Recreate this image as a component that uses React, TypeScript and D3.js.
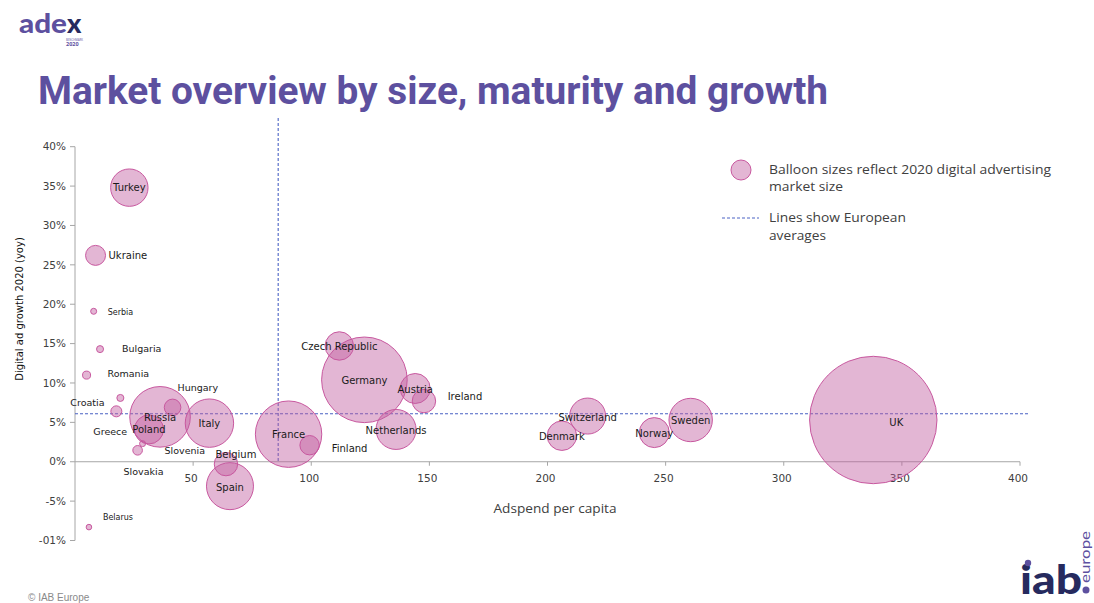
import React from "react";
import * as d3 from "d3";

// ---- Data ----
const countries = [
  "Turkey", "Ukraine", "Serbia", "Bulgaria", "Romania", "Croatia", "Greece",
  "Russia", "Hungary", "Poland", "Slovenia", "Slovakia", "Italy", "Belgium",
  "Spain", "Belarus", "France", "Finland", "Czech Republic", "Germany",
  "Austria", "Ireland", "Netherlands", "Denmark", "Switzerland", "Norway",
  "Sweden", "UK",
];
// Adspend per capita (€)
const adspendPerCapita = [
  23, 8.7, 7.9, 10.6, 4.9, 19.2, 17.5,
  36, 41.3, 31.3, 28.6, 26.5, 56.9, 63.9,
  65.6, 5.9, 90.4, 99.3, 111.9, 122.5,
  144, 147.7, 135.9, 206.1, 217, 245.2,
  260.6, 337.9,
];
// Digital ad growth 2020 (yoy, %)
const growth = [
  34.8, 26.2, 19.1, 14.3, 11.0, 8.1, 6.4,
  5.7, 6.9, 4.1, 2.3, 1.45, 4.9, -0.3,
  -3.1, -8.3, 3.5, 2.1, 14.7, 10.4,
  9.3, 7.7, 4.1, 3.3, 5.8, 3.7,
  5.3, 5.3,
];
// 2020 digital advertising market size (€m)
const marketSize = [
  2025, 579, 52, 71, 93, 71, 175,
  5318, 399, 1218, 52, 133, 3392, 793,
  3199, 45, 6384, 545, 1168, 10610,
  1303, 793, 2317, 1252, 1877, 1303,
  2727, 23500,
];
const xTicks = [50, 100, 150, 200, 250, 300, 350, 400];
const yTicks = [40, 35, 30, 25, 20, 15, 10, 5, 0, -5, -10];
const yTickLabels = ["40%", "35%", "30%", "25%", "20%", "15%", "10%", "5%", "0%", "-5%", "-01%"];
const avgAdspend = 86;
const avgGrowth = 6.1;

// ---- Label layout (offsets from bubble centre) ----
const labelLayout: Record<string, { dx: number; dy: number; anchor: string; size: number }> = {
  Turkey: { dx: 0, dy: 0, anchor: "middle", size: 10 },
  Ukraine: { dx: 13, dy: 0, anchor: "start", size: 10 },
  Serbia: { dx: 14, dy: 1, anchor: "start", size: 8 },
  Bulgaria: { dx: 22, dy: 0, anchor: "start", size: 9.5 },
  Romania: { dx: 21, dy: -1, anchor: "start", size: 9.5 },
  Croatia: { dx: -50, dy: 5, anchor: "start", size: 9.5 },
  Greece: { dx: -23, dy: 20, anchor: "start", size: 9.5 },
  Russia: { dx: 0, dy: 1, anchor: "middle", size: 10 },
  Hungary: { dx: 5, dy: -20, anchor: "start", size: 9.5 },
  Poland: { dx: 0, dy: 0, anchor: "middle", size: 10 },
  Slovenia: { dx: 22, dy: 7, anchor: "start", size: 9.5 },
  Slovakia: { dx: -14, dy: 21, anchor: "start", size: 9.5 },
  Italy: { dx: 0, dy: 0, anchor: "middle", size: 10 },
  Belgium: { dx: 10, dy: -10, anchor: "middle", size: 10 },
  Spain: { dx: 0, dy: 1, anchor: "middle", size: 10 },
  Belarus: { dx: 14, dy: -10, anchor: "start", size: 8 },
  France: { dx: 0, dy: 0, anchor: "middle", size: 10 },
  Finland: { dx: 40, dy: 3, anchor: "middle", size: 10 },
  "Czech Republic": { dx: 0, dy: 1, anchor: "middle", size: 10 },
  Germany: { dx: 0, dy: 1, anchor: "middle", size: 10 },
  Austria: { dx: 0, dy: 1, anchor: "middle", size: 10 },
  Ireland: { dx: 41, dy: -5, anchor: "middle", size: 10 },
  Netherlands: { dx: 0, dy: 1, anchor: "middle", size: 10 },
  Denmark: { dx: 0, dy: 1, anchor: "middle", size: 10 },
  Switzerland: { dx: 0, dy: 1, anchor: "middle", size: 10 },
  Norway: { dx: 0, dy: 1, anchor: "middle", size: 10 },
  Sweden: { dx: 0, dy: 1, anchor: "middle", size: 10 },
  UK: { dx: 23, dy: 3, anchor: "middle", size: 10 },
};

const W = 1094;
const H = 603;
const PURPLE = "#5d509f";
const FONT = "'Open Sans', 'DejaVu Sans', sans-serif";
const LABEL_FONT = "'DejaVu Sans', 'Noto Sans', sans-serif";

export default function App() {
  const x = d3.scaleLinear().domain([0, 400]).range([75, 1020]);
  const y = d3.scaleLinear().domain([-10, 40]).range([540.5, 146.7]);
  const r = d3.scaleSqrt().domain([0, 23500]).range([0, 63.7]);

  const data = countries.map((c, i) => ({
    name: c,
    x: adspendPerCapita[i],
    y: growth[i],
    s: marketSize[i],
  }));
  const sorted = [...data].sort((a, b) => b.s - a.s);

  return (
    <svg
      width={W}
      height={H}
      viewBox={`0 0 ${W} ${H}`}
      style={{ position: "absolute", left: 0, top: 0, background: "#fff" }}
    >
      {/* adex logo */}
      <g>
        <text x={19} y={33} fontFamily="Lato, 'Open Sans', sans-serif" fontWeight={900} fontSize={27} fill={PURPLE} textLength={48} lengthAdjust="spacingAndGlyphs">ade</text>
        <text x={67} y={33} fontFamily="Lato, 'Open Sans', sans-serif" fontWeight={900} fontSize={27} fill="#262a5e">x</text>
        <text x={66} y={41} fontFamily={FONT} fontSize={3} fill={PURPLE} textLength={17} lengthAdjust="spacingAndGlyphs">BENCHMARK</text>
        <text x={66} y={46} fontFamily={FONT} fontWeight={700} fontSize={5.5} fill={PURPLE}>2020</text>
      </g>

      {/* title */}
      <text
        x={38}
        y={103.5}
        fontFamily="Roboto, 'DejaVu Sans', sans-serif"
        fontWeight={700}
        fontSize={39}
        fill={PURPLE}
        textLength={790}
        lengthAdjust="spacingAndGlyphs"
      >
        Market overview by size, maturity and growth
      </text>

      {/* axes */}
      <g stroke="#a6a6a6" strokeWidth={1} fill="none">
        <line x1={x(0)} x2={x(0)} y1={y(40)} y2={y(-10)} />
        <line x1={x(0)} x2={x(400)} y1={y(0)} y2={y(0)} />
        {yTicks.map((t) => (
          <line key={"yt" + t} x1={x(0) - 5} x2={x(0)} y1={y(t)} y2={y(t)} />
        ))}
        {xTicks.map((t) => (
          <line key={"xt" + t} x1={x(t)} x2={x(t)} y1={y(0)} y2={y(0) + 4} />
        ))}
      </g>
      <g fontFamily={LABEL_FONT} fontSize={10.5} fill="#404040">
        {yTicks.map((t, i) => (
          <text key={"yl" + t} x={x(0) - 9} y={y(t)} dy="0.35em" textAnchor="end">
            {yTickLabels[i]}
          </text>
        ))}
        {xTicks.map((t) => (
          <text key={"xl" + t} x={x(t) - 2} y={y(0) + 17} dy="0.35em" textAnchor="middle">
            {t}
          </text>
        ))}
      </g>
      <text
        transform={`translate(23,${309}) rotate(-90)`}
        textAnchor="middle"
        fontFamily={LABEL_FONT}
        fontSize={10}
        fill="#111"
      >
        Digital ad growth 2020 (yoy)
      </text>
      <text x={555} y={513} textAnchor="middle" fontFamily={FONT} fontSize={13} fill="#404040" textLength={123} lengthAdjust="spacingAndGlyphs">
        Adspend per capita
      </text>

      {/* average lines */}
      <g stroke="#4a62c4" strokeWidth={1.1} strokeDasharray="3,2" fill="none">
        <line x1={x(avgAdspend)} x2={x(avgAdspend)} y1={118} y2={y(0)} />
        <line x1={x(0)} x2={1028} y1={y(avgGrowth)} y2={y(avgGrowth)} />
      </g>

      {/* bubbles */}
      <g>
        {sorted.map((d) => (
          <circle
            key={d.name}
            cx={x(d.x)}
            cy={y(d.y)}
            r={r(d.s)}
            fill="#c25ea0"
            fillOpacity={0.45}
            stroke="#c8589f"
            strokeWidth={1}
          />
        ))}
      </g>

      {/* labels */}
      <g fontFamily={LABEL_FONT} fill="#1a1a1a">
        {data.map((d) => {
          const l = labelLayout[d.name];
          return (
            <text
              key={"lab" + d.name}
              x={x(d.x) + l.dx}
              y={y(d.y) + l.dy}
              dy="0.35em"
              textAnchor={l.anchor}
              fontSize={l.size}
            >
              {d.name}
            </text>
          );
        })}
      </g>

      {/* legend */}
      <g fontFamily={FONT} fontSize={13} fill="#404040">
        <circle cx={741} cy={170} r={10} fill="#c25ea0" fillOpacity={0.45} stroke="#c8589f" />
        <text x={769} y={174} textLength={282} lengthAdjust="spacingAndGlyphs">Balloon sizes reflect 2020 digital advertising</text>
        <text x={769} y={191} textLength={74} lengthAdjust="spacingAndGlyphs">market size</text>
        <line x1={722} x2={759} y1={218} y2={218} stroke="#4a62c4" strokeDasharray="3,2" />
        <text x={769} y={222} textLength={137} lengthAdjust="spacingAndGlyphs">Lines show European</text>
        <text x={769} y={240} textLength={57} lengthAdjust="spacingAndGlyphs">averages</text>
      </g>

      {/* footer */}
      <text x={28} y={601} fontFamily="'Liberation Sans', Arial, sans-serif" fontSize={10} fill="#8a8a8a">
        © IAB Europe
      </text>

      {/* iab europe logo */}
      <g>
        <text x={1020} y={594} fontFamily="Lato, 'Open Sans', sans-serif" fontWeight={900} fontSize={40} fill="#262a5e" textLength={62} lengthAdjust="spacingAndGlyphs">iab</text>
        <circle cx={1028} cy={563} r={3.2} fill={PURPLE} />
        <circle cx={1086} cy={590} r={3.5} fill={PURPLE} />
        <text transform="translate(1090,583) rotate(-90)" fontFamily="Lato, 'Open Sans', sans-serif" fontSize={13} fill={PURPLE} textLength={52} lengthAdjust="spacingAndGlyphs">europe</text>
      </g>
    </svg>
  );
}
